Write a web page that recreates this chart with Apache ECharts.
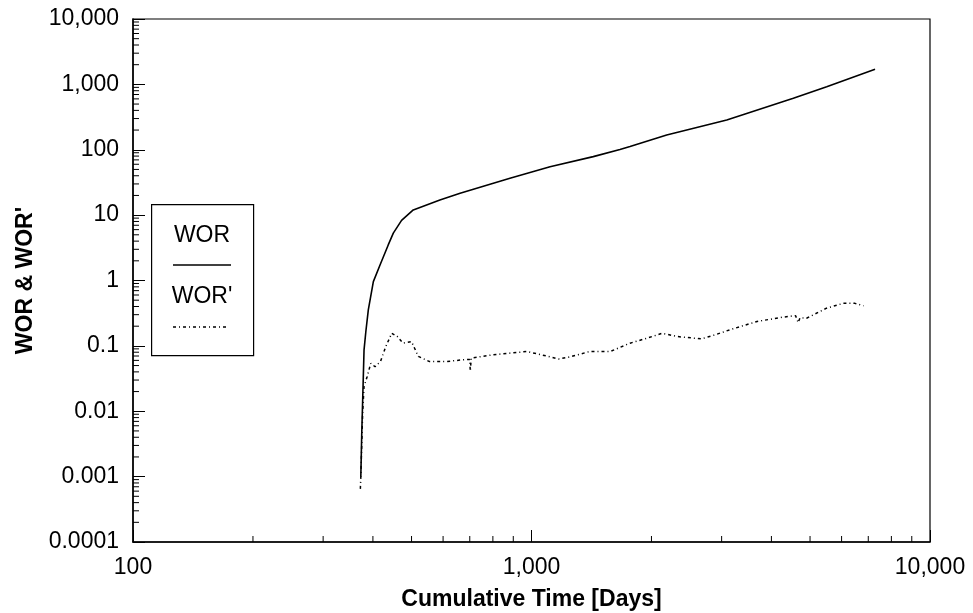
<!DOCTYPE html>
<html>
<head>
<meta charset="utf-8">
<script src="https://cdn.jsdelivr.net/npm/echarts@6/dist/echarts.min.js"></script>
<style>
html,body{margin:0;padding:0;background:#fff;}
#chart{width:973px;height:613px;}
</style>
</head>
<body>
<div id="chart"></div>
<script>
// ---- Data ----
const worDays = [373, 375, 377, 380, 384, 389.5, 401, 417, 437, 450, 472, 505, 589, 662, 883, 1113, 1429, 1667, 1767, 2184, 3090, 4540, 5505, 7280];
const worValues = [0.001, 0.0046, 0.0148, 0.087, 0.166, 0.355, 0.96, 1.74, 3.5, 5.3, 8.3, 12, 17, 21.6, 36.6, 55, 78.5, 101, 112, 168, 286, 612, 923, 1700];

const worPDays = [372, 373, 377, 380, 387, 395, 405, 418, 431, 446, 460, 476, 500, 520, 555, 612, 669, 700, 702, 706, 800, 974, 1090, 1170, 1250, 1400, 1576, 1767, 1948, 2128, 2322, 2668, 2852, 3145, 3680, 4270, 4600, 4670, 4720, 4900, 5500, 6050, 6480, 6810];
const worPValues = [0.00065, 0.001, 0.0095, 0.024, 0.034, 0.054, 0.048, 0.058, 0.098, 0.156, 0.14, 0.11, 0.116, 0.069, 0.0575, 0.0575, 0.061, 0.062, 0.041, 0.065, 0.073, 0.082, 0.07, 0.063, 0.068, 0.082, 0.082, 0.11, 0.131, 0.156, 0.139, 0.128, 0.144, 0.176, 0.236, 0.275, 0.29, 0.227, 0.27, 0.265, 0.377, 0.447, 0.447, 0.41];

const xRange = [100, 10000];
const yRange = [0.0001, 10000];
const xTickLabels = ['100', '1,000', '10,000'];
const yTickLabels = ['0.0001', '0.001', '0.01', '0.1', '1', '10', '100', '1,000', '10,000'];
const xMinorTicks = [200, 300, 400, 500, 600, 700, 800, 900, 2000, 3000, 4000, 5000, 6000, 7000, 8000, 9000];
const yMinorTicks = [];
for (let e = -4; e < 4; e++) { for (let m = 2; m <= 9; m++) yMinorTicks.push(m * Math.pow(10, e)); }

const xTitle = 'Cumulative Time [Days]';
const yTitle = "WOR & WOR'";
const seriesNames = ['WOR', "WOR'"];

// ---- Chart ----
const FONT = '"Liberation Sans", Arial, sans-serif';
const dashPattern = [3, 3, 1, 3];
const MINOR_LEN = 6;
const chart = echarts.init(document.getElementById('chart'), null, {renderer: 'canvas'});

const option = {
  animation: false,
  backgroundColor: '#fff',
  grid: {left: 133, top: 19, right: 43, bottom: 71, show: true, borderColor: '#000', borderWidth: 1.2,
    containLabel: false, outerBoundsMode: 'none'},
  xAxis: {
    type: 'log', logBase: 10, min: xRange[0], max: xRange[1], position: 'bottom',
    axisLine: {show: true, onZero: false, lineStyle: {color: '#000', width: 1.5}},
    axisTick: {show: true, inside: true, length: 12, lineStyle: {color: '#000', width: 1}},
    axisLabel: {color: '#000', fontFamily: FONT, fontSize: 23, margin: 14,
      formatter: v => xTickLabels[Math.round(Math.log10(v)) - 2]},
    splitLine: {show: false},
    name: xTitle, nameLocation: 'middle', nameGap: 46,
    nameTextStyle: {color: '#000', fontFamily: FONT, fontSize: 23, fontWeight: 'bold'}
  },
  yAxis: {
    type: 'log', logBase: 10, min: yRange[0], max: yRange[1], position: 'left',
    axisLine: {show: true, onZero: false, lineStyle: {color: '#000', width: 1.5}},
    axisTick: {show: true, inside: true, length: 12, lineStyle: {color: '#000', width: 1}},
    axisLabel: {color: '#000', fontFamily: FONT, fontSize: 23, margin: 14,
      formatter: v => yTickLabels[Math.round(Math.log10(v)) + 4]},
    splitLine: {show: false},
    name: yTitle, nameLocation: 'middle', nameGap: 96, nameRotate: 90,
    nameTextStyle: {color: '#000', fontFamily: FONT, fontSize: 23, fontWeight: 'bold'}
  },
  series: [
    {
      name: seriesNames[0], type: 'line',
      data: worDays.map((d, i) => [d, worValues[i]]),
      showSymbol: false, symbol: 'none', smooth: false,
      lineStyle: {color: '#000', width: 1.6}
    },
    {
      name: seriesNames[1], type: 'line',
      data: worPDays.map((d, i) => [d, worPValues[i]]),
      showSymbol: false, symbol: 'none', smooth: false,
      lineStyle: {color: '#000', width: 1.5, type: dashPattern}
    },
    {
      // minor ticks on the x axis (log positions via the axis scale)
      type: 'custom', silent: true, clip: false, z: 5,
      data: xMinorTicks.map(v => [v, yRange[0]]),
      renderItem: (params, api) => {
        const p = api.coord([api.value(0), api.value(1)]);
        return {type: 'line', shape: {x1: p[0], y1: p[1], x2: p[0], y2: p[1] - MINOR_LEN},
          style: {stroke: '#000', lineWidth: 1}};
      }
    },
    {
      // minor ticks on the y axis
      type: 'custom', silent: true, clip: false, z: 5,
      data: yMinorTicks.map(v => [xRange[0], v]),
      renderItem: (params, api) => {
        const p = api.coord([api.value(0), api.value(1)]);
        return {type: 'line', shape: {x1: p[0], y1: p[1], x2: p[0] + MINOR_LEN, y2: p[1]},
          style: {stroke: '#000', lineWidth: 1}};
      }
    }
  ],
  graphic: [
    {type: 'rect', left: 151, top: 204, shape: {width: 102, height: 151},
      style: {fill: '#fff', stroke: '#000', lineWidth: 1.2}, z: 10},
    {type: 'text', x: 202, y: 236, style: {text: seriesNames[0], font: '23px ' + FONT, fill: '#000', align: 'center', verticalAlign: 'middle'}, z: 11},
    {type: 'line', shape: {x1: 173, y1: 265, x2: 231, y2: 265}, style: {stroke: '#000', lineWidth: 1.5}, z: 11},
    {type: 'text', x: 202, y: 297, style: {text: seriesNames[1], font: '23px ' + FONT, fill: '#000', align: 'center', verticalAlign: 'middle'}, z: 11},
    {type: 'line', shape: {x1: 173, y1: 327, x2: 229, y2: 327}, style: {stroke: '#000', lineWidth: 1.5, lineDash: dashPattern}, z: 11}
  ]
};
chart.setOption(option);
</script>
</body>
</html>
